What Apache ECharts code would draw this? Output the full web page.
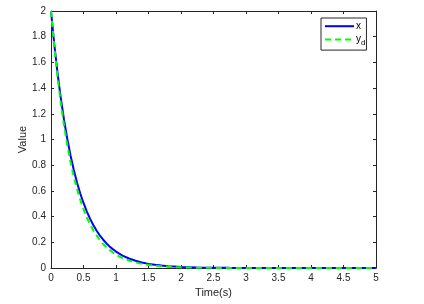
<!DOCTYPE html>
<html>
<head>
<meta charset="utf-8">
<script src="https://cdn.jsdelivr.net/npm/echarts@6/dist/echarts.min.js"></script>
<style>
html,body{margin:0;padding:0;background:#fff;}
#chart{width:424px;height:304px;}
</style>
</head>
<body>
<div id="chart"></div>
<script>
// Time samples (s)
var timeValues = [0,0.05,0.1,0.15,0.2,0.25,0.3,0.35,0.4,0.45,0.5,0.55,0.6,0.65,0.7,0.75,0.8,0.85,0.9,0.95,1.0,1.1,1.2,1.3,1.4,1.5,1.6,1.7,1.8,1.9,2.0,2.25,2.5,2.75,3.0,3.5,4.0,4.5,5.0];
// Series "x" (blue, solid)
var xValues = [2.000,1.743,1.519,1.324,1.154,1.006,0.876,0.764,0.666,0.580,0.506,0.441,0.384,0.335,0.292,0.254,0.222,0.193,0.168,0.147,0.128,0.097,0.074,0.056,0.043,0.032,0.025,0.019,0.014,0.011,0.008,0.004,0.002,0.001,0.0005,0,0,0,0];
// Series "y_d" (green, dashed)
var ydValues = [2.000,1.726,1.489,1.285,1.109,0.957,0.825,0.712,0.615,0.530,0.458,0.395,0.341,0.294,0.254,0.219,0.189,0.163,0.141,0.121,0.102,0.078,0.058,0.043,0.032,0.024,0.018,0.013,0.010,0.007,0.005,0.002,0.001,0,0,0,0,0,0];
// Axis ticks
var xTicks = ['0','0.5','1','1.5','2','2.5','3','3.5','4','4.5','5'];
var yTicks = ['0','0.2','0.4','0.6','0.8','1','1.2','1.4','1.6','1.8','2'];

function pairs(xs, ys){ return xs.map(function(t,i){ return [t, ys[i]]; }); }

var axisColor = '#262626';
var font = 'Liberation Sans, Arial, Helvetica, sans-serif';

var chart = echarts.init(document.getElementById('chart'), null, {renderer:'canvas'});
chart.setOption({
  backgroundColor:'#ffffff',
  animation:false,
  grid:{left:51, top:11, width:325, height:257, containLabel:false},
  legend:{
    orient:'vertical', left:321, top:18,
    padding:[3,1,3,3], itemGap:3, itemWidth:29, itemHeight:13,
    borderColor:axisColor, borderWidth:1, backgroundColor:'#fff',
    itemStyle:{opacity:0},
    textStyle:{fontFamily:font, fontSize:10, color:'#000', padding:[0,0,0,-3],
      rich:{b:{fontFamily:font, fontSize:8, padding:[7,0,0,0], color:'#000'}, a:{fontFamily:font, fontSize:10, color:'#000'}}},
    formatter:function(n){ return n==='y_d' ? '{a|y}{b|d}' : n; },
    data:['x','y_d']
  },
  xAxis:[{
    type:'value', min:0, max:5, interval:0.5,
    name:'Time(s)', nameLocation:'middle', nameGap:19, nameMoveOverlap:false,
    nameTextStyle:{fontFamily:font, fontSize:11, color:axisColor},
    axisLine:{show:true, onZero:false, lineStyle:{color:axisColor, width:1}},
    axisTick:{show:true, inside:true, length:3, lineStyle:{color:axisColor}},
    axisLabel:{fontFamily:font, fontSize:10, color:axisColor, margin:5,
      formatter:function(v){ var i=Math.round(v/0.5); return xTicks[i]; }},
    splitLine:{show:false}
  },{
    type:'value', min:0, max:5, interval:0.5, position:'top',
    axisLine:{show:true, onZero:false, lineStyle:{color:axisColor, width:1}},
    axisTick:{show:true, inside:true, length:3, lineStyle:{color:axisColor}},
    axisLabel:{show:false}, splitLine:{show:false}
  }],
  yAxis:[{
    type:'value', min:0, max:2, interval:0.2,
    name:'Value', nameLocation:'middle', nameGap:23, nameRotate:90, nameMoveOverlap:false,
    nameTextStyle:{fontFamily:font, fontSize:11, color:axisColor},
    axisLine:{show:true, onZero:false, lineStyle:{color:axisColor, width:1}},
    axisTick:{show:true, inside:true, length:3, lineStyle:{color:axisColor}},
    axisLabel:{fontFamily:font, fontSize:10, color:axisColor, margin:5,
      formatter:function(v){ var i=Math.round(v/0.2); return yTicks[i]; }},
    splitLine:{show:false}
  },{
    type:'value', min:0, max:2, interval:0.2, position:'right',
    axisLine:{show:true, onZero:false, lineStyle:{color:axisColor, width:1}},
    axisTick:{show:true, inside:true, length:3, lineStyle:{color:axisColor}},
    axisLabel:{show:false}, splitLine:{show:false}
  }],
  series:[{
    name:'x', type:'line', xAxisIndex:0, yAxisIndex:0,
    data:pairs(timeValues, xValues), smooth:false, symbol:'none', showSymbol:false,
    lineStyle:{color:'#0000ff', width:2}, itemStyle:{color:'#0000ff'}
  },{
    name:'y_d', type:'line', xAxisIndex:0, yAxisIndex:0,
    data:pairs(timeValues, ydValues), smooth:false, symbol:'none', showSymbol:false,
    lineStyle:{color:'#00ff00', width:2, type:[6,4]}, itemStyle:{color:'#00ff00'}
  }]
});
</script>
</body>
</html>
